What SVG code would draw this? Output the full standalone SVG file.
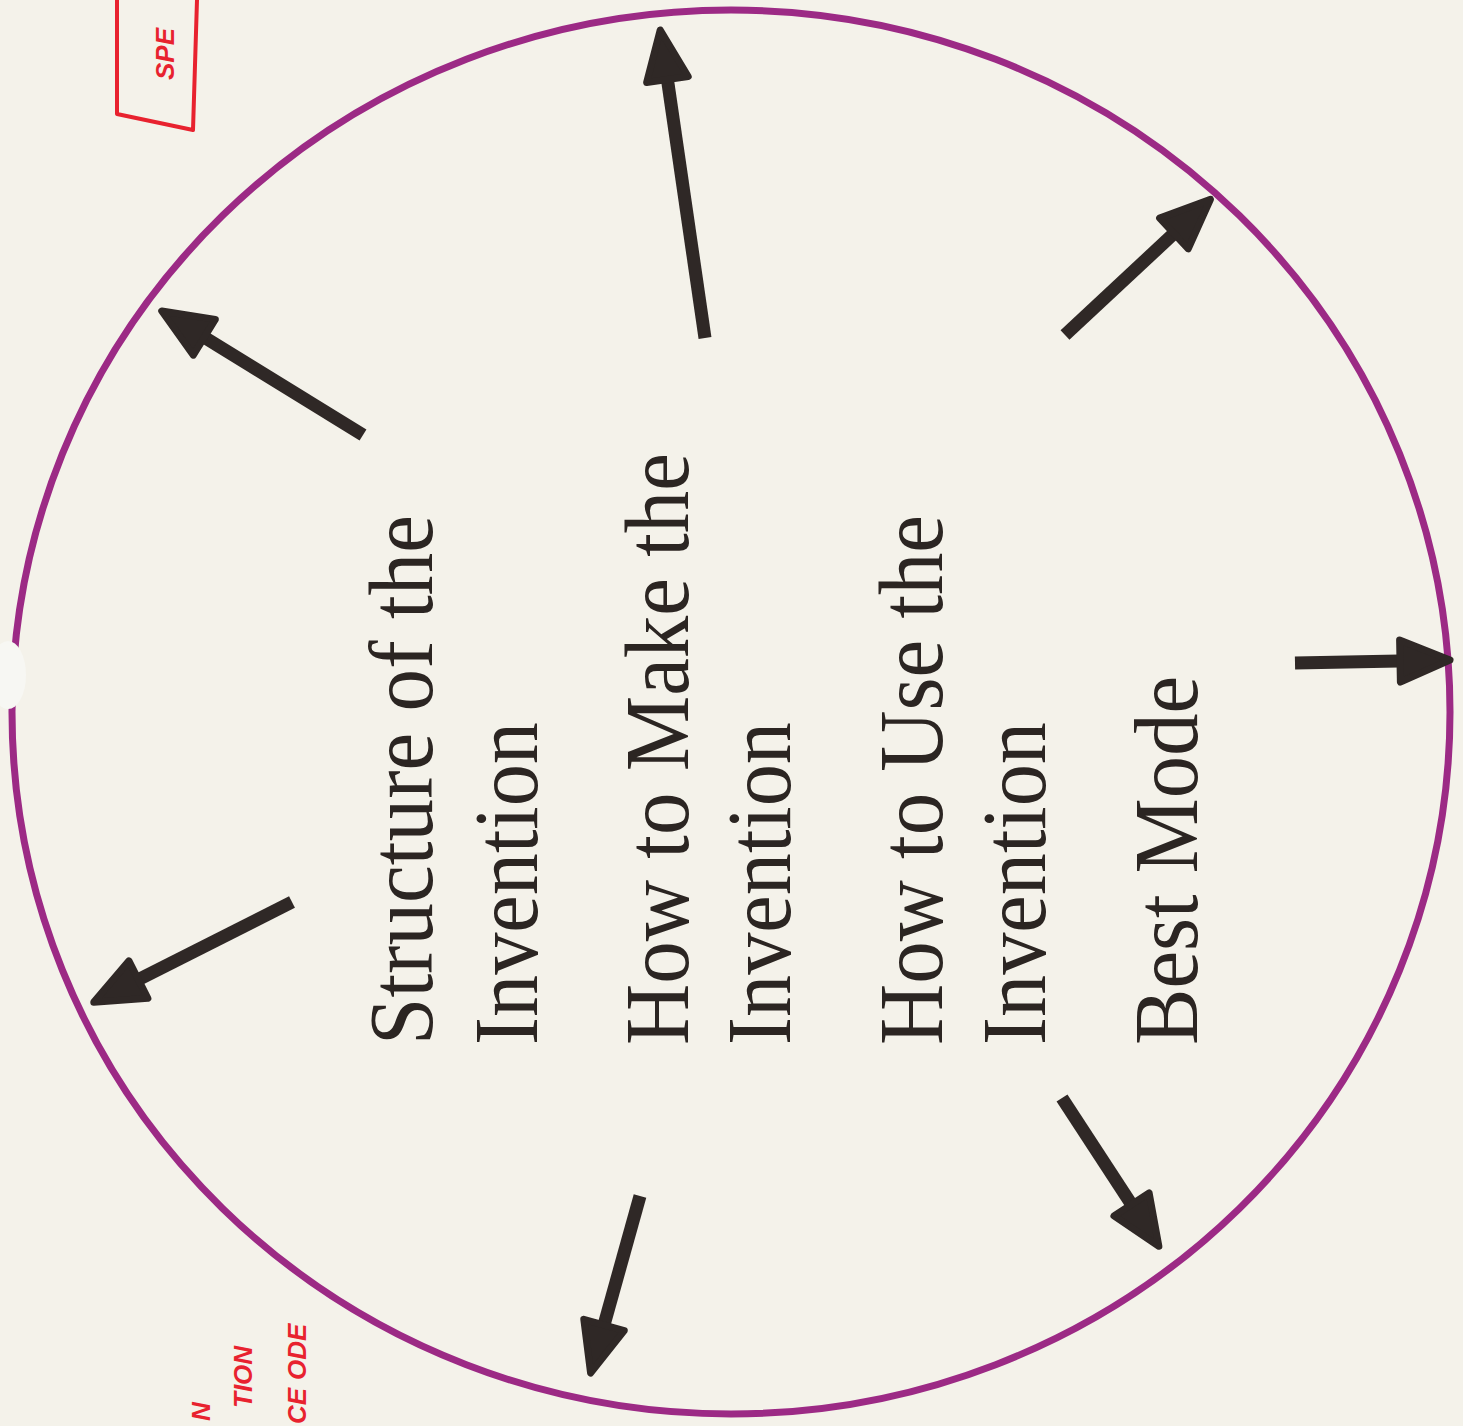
<svg xmlns="http://www.w3.org/2000/svg" width="1463" height="1426" viewBox="0 0 1463 1426">
  <style>
    .lbl { font-family: "Liberation Serif", "Times New Roman", serif; font-size: 92px; fill: #2b2522; }
    .hand { font-family: "Liberation Sans", Arial, sans-serif; font-size: 26px; font-weight: bold; fill: #e8222f; font-style: italic; }
    .arrow { stroke: #2f2826; stroke-width: 13; fill: none; marker-end: url(#head); }
    .ring { fill: none; stroke: #9c2a85; stroke-width: 7; }
  </style>
  <defs>
    <marker id="head" markerUnits="userSpaceOnUse" viewBox="-2 -28 60 56" markerWidth="60" markerHeight="56" refX="14" refY="0" orient="auto">
      <path d="M2,-21 L52,0 L2,21 Z" fill="#2f2826" stroke="#2f2826" stroke-width="7" stroke-linejoin="round"/>
    </marker>
  </defs>
  <rect width="1463" height="1426" fill="#f4f2ea"/>

  <g id="circle">
    <ellipse class="ring" cx="731" cy="712" rx="719" ry="702"/>
    <ellipse cx="8" cy="675" rx="18" ry="34" fill="#f7f7f3"/>
  </g>

  <g id="connectors">
    <line class="arrow" x1="363" y1="435" x2="194.1" y2="331.0"/>
    <line class="arrow" x1="705" y1="338" x2="665.7" y2="67.6"/>
    <line class="arrow" x1="1065" y1="335" x2="1182.7" y2="225.3"/>
    <line class="arrow" x1="1295" y1="663" x2="1412" y2="660.8"/>
    <line class="arrow" x1="1062" y1="1098" x2="1138.1" y2="1214.5"/>
    <line class="arrow" x1="640" y1="1196" x2="600.8" y2="1336.5"/>
    <line class="arrow" x1="292" y1="902" x2="127.7" y2="985.0"/>
  </g>

  <g id="node-structure">
    <text class="lbl" transform="translate(432,1045) rotate(-90)" textLength="530" lengthAdjust="spacingAndGlyphs">Structure of the</text>
    <text class="lbl" transform="translate(537,1045) rotate(-90)" textLength="323" lengthAdjust="spacingAndGlyphs">Invention</text>
  </g>
  <g id="node-make">
    <text class="lbl" transform="translate(688,1045) rotate(-90)" textLength="592" lengthAdjust="spacingAndGlyphs">How to Make the</text>
    <text class="lbl" transform="translate(790,1045) rotate(-90)" textLength="323" lengthAdjust="spacingAndGlyphs">Invention</text>
  </g>
  <g id="node-use">
    <text class="lbl" transform="translate(942,1045) rotate(-90)" textLength="530" lengthAdjust="spacingAndGlyphs">How to Use the</text>
    <text class="lbl" transform="translate(1045,1045) rotate(-90)" textLength="323" lengthAdjust="spacingAndGlyphs">Invention</text>
  </g>
  <g id="node-best">
    <text class="lbl" transform="translate(1197,1045) rotate(-90)" textLength="369" lengthAdjust="spacingAndGlyphs">Best Mode</text>
  </g>

  <g id="annotations">
    <path d="M117,0 L117,114 L193,130 L197,0" fill="none" stroke="#e8222f" stroke-width="4" stroke-linejoin="round"/>
    <text class="hand" transform="translate(174,80) rotate(-90)" font-size="34">SPE</text>
    <text class="hand" transform="translate(210,1421) rotate(-90)">N</text>
    <text class="hand" transform="translate(252,1408) rotate(-90)">TION</text>
    <text class="hand" transform="translate(306,1380) rotate(-90)">ODE</text>
    <text class="hand" transform="translate(306,1424) rotate(-90)">CE</text>
  </g>
</svg>
